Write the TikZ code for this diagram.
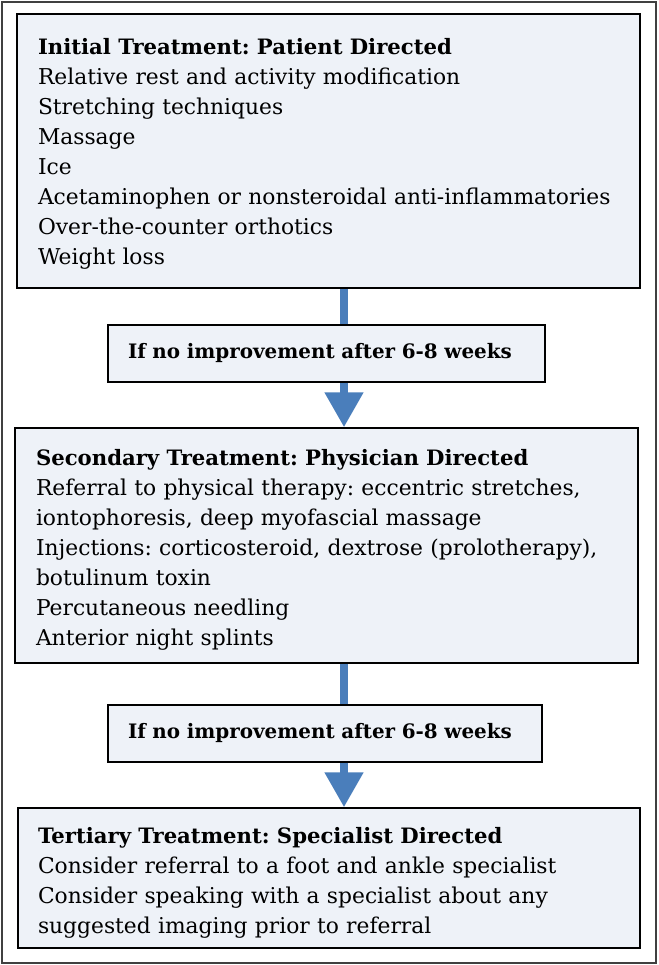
\documentclass[tikz,border=0pt]{standalone}
\usepackage{fontspec}
\setmainfont{DejaVu Serif}
\usetikzlibrary{arrows.meta,backgrounds}
\definecolor{boxfill}{HTML}{EEF2F8}
\definecolor{flowblue}{HTML}{4A7EBB}
\frenchspacing
\tikzset{
  stepbox/.style = {shape=rectangle, draw, line width=1.5pt, fill=boxfill,
                    align=left, inner xsep=21pt, inner ysep=0pt,
                    font=\fontsize{21.8}{30}\selectfont},
  ifbox/.style   = {stepbox, inner xsep=20pt,
                    font=\bfseries\fontsize{19.9}{22}\selectfont},
  flow/.style    = {draw=flowblue, line width=8pt,
                    -{Triangle[width=37pt,length=35pt]}}
}
% bold first line of a box; the strut pushes the text block down a little
\newcommand{\headtext}[2][25pt]{\rule{0pt}{#1}{\bfseries\fontsize{21.2}{30}\selectfont #2}}

\begin{document}
\begin{tikzpicture}
  [
    x = 1pt,
    y = -1pt
  ]
  \useasboundingbox (0,0) rectangle (658,965);
  \coordinate (ax) at (344,0);

  \node [stepbox, minimum height=274pt, text width=581pt] (initial) at (328.5,151)
    {\headtext[21pt]{Initial Treatment: Patient Directed}\\
     Relative rest and activity modification\\
     Stretching techniques\\
     Massage\\
     Ice\\
     Acetaminophen or nonsteroidal anti-inflammatories\\
     Over-the-counter orthotics\\
     Weight loss};

  \node [ifbox, minimum height=57pt, text width=397pt] (wait1) at (326.5,353.5)
    {If no improvement after 6-8 weeks};

  \node [stepbox, minimum height=235pt, text width=581pt] (secondary) at (326.5,545.5)
    {\headtext[25pt]{Secondary Treatment: Physician Directed}\\
     Referral to physical therapy: eccentric stretches,\\
     iontophoresis, deep myofascial massage\\
     Injections: corticosteroid, dextrose (prolotherapy),\\
     botulinum toxin\\
     Percutaneous needling\\
     Anterior night splints};

  \node [ifbox, minimum height=57pt, text width=394pt] (wait2) at (325,733.5)
    {If no improvement after 6-8 weeks};

  \node [stepbox, inner xsep=20pt, minimum height=140pt, text width=582pt] (tertiary) at (329,878)
    {\headtext[26pt]{Tertiary Treatment: Specialist Directed}\\
     Consider referral to a foot and ankle specialist\\
     Consider speaking with a specialist about any\\
     suggested imaging prior to referral};

  % frame and arrows behind the boxes
  \begin{scope}[on background layer]
    \draw [line width=1.5pt, draw=black!75, fill=white] (2,2) rectangle (656,963);
    \draw [flow] (initial.south -| ax) -- (secondary.north -| ax);
    \draw [flow] (secondary.south -| ax) -- (tertiary.north -| ax);
  \end{scope}
\end{tikzpicture}
\end{document}
